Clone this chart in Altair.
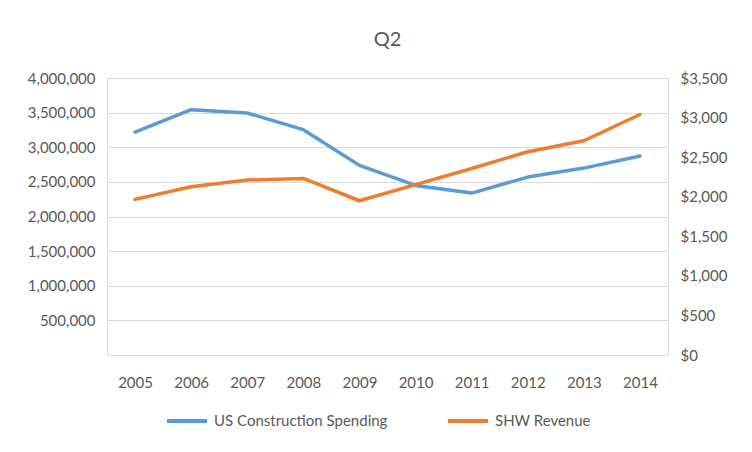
import altair as alt
import pandas as pd

years = ["2005", "2006", "2007", "2008", "2009", "2010", "2011", "2012", "2013", "2014"]
construction = [3220000, 3543000, 3495000, 3254000, 2738000, 2449000, 2338000, 2569000, 2699000, 2873000]
shw_revenue = [1966, 2126, 2210, 2231, 1949, 2152, 2357, 2568, 2707, 3039]
series_names = ["US Construction Spending", "SHW Revenue"]
series_colors = ["#5B9BD5", "#ED7D31"]
left_ticks = [0, 500000, 1000000, 1500000, 2000000, 2500000, 3000000, 3500000, 4000000]
right_ticks = [0, 500, 1000, 1500, 2000, 2500, 3000, 3500]

rows = []
for y, v in zip(years, construction):
    rows.append({"year": y, "series": series_names[0], "value": v})
for y, v in zip(years, shw_revenue):
    rows.append({"year": y, "series": series_names[1], "value": v})
df = pd.DataFrame(rows)

FONT = "Lato"
GREY = "#595959"

color = alt.Color(
    "series:N",
    scale=alt.Scale(domain=series_names, range=series_colors),
    legend=alt.Legend(
        title=None, orient="none", direction="horizontal",
        legendX=58, legendY=321,
        symbolType="stroke", symbolSize=1600, symbolStrokeWidth=4,
        labelFontSize=15, labelColor=GREY, labelFont=FONT, labelLimit=400,
        columnPadding=52, labelOffset=5,
    ),
)

x = alt.X(
    "year:O", sort=years, title=None,
    scale=alt.Scale(type="point", padding=0.5),
    axis=alt.Axis(labelAngle=0, ticks=False, domain=False, labelPadding=20,
                  labelFontSize=15, labelColor=GREY, labelFont=FONT),
)

base = alt.Chart(df)

left = base.transform_filter(alt.datum.series == series_names[0]).mark_line(
    strokeWidth=3.5, strokeCap="round", strokeJoin="round"
).encode(
    x=x,
    y=alt.Y("value:Q", title=None,
            scale=alt.Scale(domain=[0, 4000000], nice=False),
            axis=alt.Axis(values=left_ticks, orient="left", ticks=False, domain=False,
                          labelPadding=12, labelFontSize=15, labelColor=GREY, labelFont=FONT,
                          labelExpr="datum.value == 0 ? '' : format(datum.value, ',')",
                          grid=True, gridColor="#d9d9d9", gridWidth=1)),
    color=color,
)

right = base.transform_filter(alt.datum.series == series_names[1]).mark_line(
    strokeWidth=3.5, strokeCap="round", strokeJoin="round"
).encode(
    x=x,
    y=alt.Y("value:Q", title=None,
            scale=alt.Scale(domain=[0, 3500], nice=False),
            axis=alt.Axis(values=right_ticks, orient="right", ticks=False, domain=False,
                          labelPadding=12, labelFontSize=15, labelColor=GREY, labelFont=FONT,
                          format="$,.0f", grid=False)),
    color=color,
)

chart = alt.layer(left, right).resolve_scale(y="independent").properties(
    width=561, height=277,
    autosize=alt.AutoSizeParams(type="none"),
    padding={"left": 99, "top": 70, "right": 76, "bottom": 89},
    title=alt.TitleParams("Q2", fontSize=20, color=GREY, font=FONT, fontWeight="normal",
                          anchor="middle", offset=21),
).configure_view(stroke=None).configure(background="white")

chart.save("out.html", embed_options={"renderer": "svg", "actions": False})
